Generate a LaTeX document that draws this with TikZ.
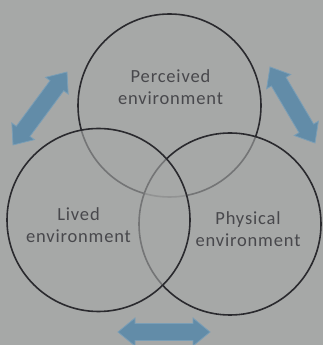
\documentclass[tikz,border=0pt]{standalone}
\usepackage{fontspec}
\setmainfont{Carlito}[LetterSpace=4.5]
\definecolor{bgc}{RGB}{166,168,167}
\definecolor{linec}{RGB}{42,42,46}
\definecolor{arrowfill}{RGB}{98,140,168}
\definecolor{arrowedge}{RGB}{122,158,182}
\definecolor{textc}{RGB}{72,72,76}
\newcommand\fatarrow[4]{%
  \begin{scope}[shift={(#1,#2)},rotate=#3]
    \pgfmathsetmacro\myL{#4/2}
    \filldraw[fatarrowstyle] (-\myL,0) -- (-\myL+17,14) -- (-\myL+17,8.5) -- (\myL-17,8.5) -- (\myL-17,14) -- (\myL,0)
      -- (\myL-17,-14) -- (\myL-17,-8.5) -- (-\myL+17,-8.5) -- (-\myL+17,-14) -- cycle;
  \end{scope}}
\begin{document}
\begin{tikzpicture}[x=1pt,y=1pt,
  fatarrowstyle/.style={fill=arrowfill,draw=arrowedge,line width=0.8pt,line join=miter},
  venn/.style={circle,draw=linec,line width=1.6pt,fill=bgc,fill opacity=0.6,text opacity=1,inner sep=0pt},
  lab/.style={align=center,text=textc,font=\fontsize{18.5}{22.5}\selectfont}]
\useasboundingbox (0,0) rectangle (323,345);
\fill[bgc] (0,0) rectangle (323,345);
% circles: top, right, left (draw order matters for faded arcs)
\node[venn,minimum size=183pt] (top) at (169.5,239.5) {};
\node[venn,minimum size=182pt] (right) at (230,121) {};
\node[venn,minimum size=183pt] (left) at (98.5,125) {};
% labels
\node[lab] (perc) at (170.5,258) {Perceived\\environment};
\node[lab] (lived) at (78.5,120) {Lived\\environment};
\node[lab] (phys) at (248,116) {Physical\\environment};
% arrows
\fatarrow{40}{236.5}{53.5}{90.8}
\fatarrow{292.5}{240}{-59.4}{88.3}
\fatarrow{164}{13}{0}{92}
\end{tikzpicture}
\end{document}
